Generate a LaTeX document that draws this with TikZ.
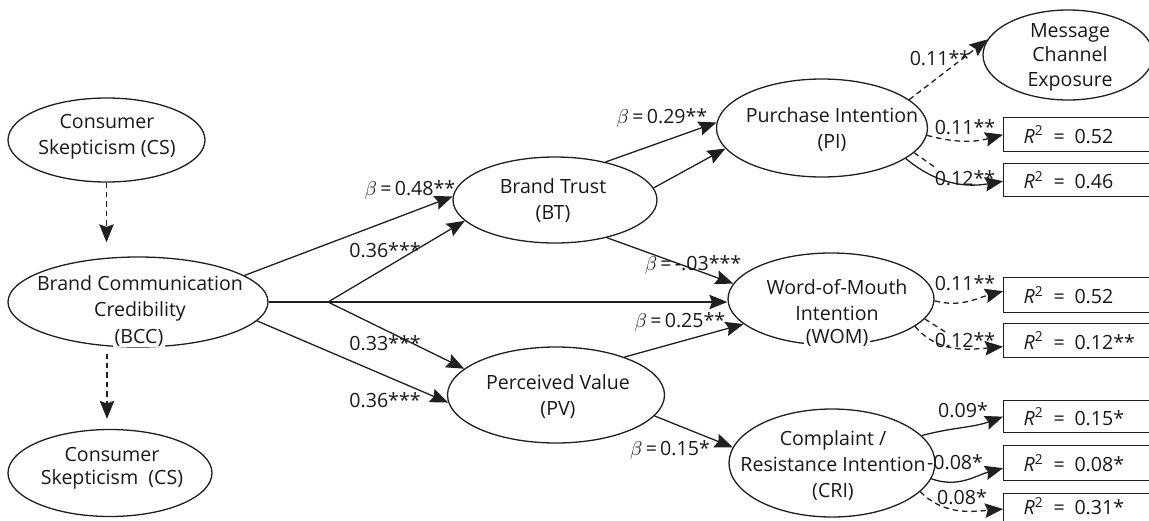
\documentclass[tikz,border=0pt]{standalone}
\usepackage{fontspec}
\setmainfont{Open Sans}
\usetikzlibrary{arrows.meta,calc,shapes.geometric}

\newcommand{\rsq}[1]{\textit{R}\textsuperscript{2}\enspace=\enspace#1}

\begin{document}
\begin{tikzpicture}[x=0.5pt,y=-0.5pt,
  every node/.style={font=\fontsize{9.8}{13}\selectfont, text=black!90},
  latent/.style={draw=black!88, line width=0.65pt, ellipse, inner sep=0pt},
  txt/.style={align=center, inner sep=0pt},
  gap/.style={fill=white, inner xsep=1pt, inner ysep=0pt},
  rbox/.style={draw=black!88, line width=0.65pt, anchor=north west, minimum width=82pt,
               text width=62pt, inner xsep=10pt, inner ysep=0pt, align=left},
  coef/.style={inner sep=0pt},
  link/.style={draw=black!88, line width=0.65pt, -{Stealth[length=9pt,width=7.2pt,inset=1.3pt]}},
  dlink/.style={link, dash pattern=on 2.7pt off 2pt},
  dseg/.style={draw=black!88, line width=0.65pt, dash pattern=on 2.7pt off 2pt}
]
\useasboundingbox (0,0) rectangle (1149,520);

% latent constructs
\node[latent, minimum width=98.5pt, minimum height=42pt]  (cs1) at (106.5,140) {};
\node[latent, minimum width=130pt,  minimum height=45pt]  (bcc) at (138,302) {};
\node[latent, minimum width=102pt,  minimum height=43.5pt](cs2) at (110,473) {};
\node[latent, minimum width=102pt,  minimum height=43pt]  (bt)  at (555,200) {};
\node[latent, minimum width=105.5pt,minimum height=49pt]  (pi)  at (822,128) {};
\node[latent, minimum width=85pt,   minimum height=45pt]  (mce) at (1068,55) {};
\node[latent, minimum width=103pt,  minimum height=46pt]  (wom) at (831,299) {};
\node[latent, minimum width=108.5pt,minimum height=48pt]  (pv)  at (556,395) {};
\node[latent, minimum width=103pt,  minimum height=54pt]  (cri) at (832,463) {};

% construct names
\node[txt] (cs1t) at (107,136.5) {Consumer\\Skepticism (CS)};
\node[txt] (bcct) at (140,298) {Brand Communication\\Credibility};
\node[txt, gap] (bccs) at (139,338) {(BCC)};
\node[txt, font=\fontsize{9.8}{11.5}\selectfont] (cs2t) at (112,468.5) {Consumer\\Skepticism\ \ (CS)};
\node[txt] (btt)  at (553,200.5) {Brand Trust\\(BT)};
\node[txt] (pit)  at (832,129.5) {Purchase Intention\\(PI)};
\node[txt, font=\fontsize{9.8}{12.3}\selectfont] (mcet) at (1070,57) {Message\\Channel\\Exposure};
\node[txt] (womt) at (837,300) {Word-of-Mouth\\Intention};
\node[txt, gap] (woms) at (837,338) {(WOM)};
\node[txt] (pvt)  at (558,397) {Perceived Value\\(PV)};
\node[txt] (crit) at (833,466) {Complaint /\\Resistance Intention\\(CRI)};

% explained variance boxes
\node[rbox, minimum height=17pt]   (r1) at (1003,117) {\rsq{0.52}};
\node[rbox, minimum height=16.5pt] (r2) at (1003,163) {\rsq{0.46}};
\node[rbox, minimum height=17.5pt] (r3) at (1003,277) {\rsq{0.52}};
\node[rbox, minimum height=17pt]   (r4) at (1003,323) {\rsq{0.12**}};
\node[rbox, minimum height=16pt]   (r5) at (1003,400) {\rsq{0.15*}};
\node[rbox, minimum height=17.5pt] (r6) at (1003,445) {\rsq{0.08*}};
\node[rbox, inner ysep=2pt, text depth=7pt] (r7) at (1003,493) {\rsq{0.31*}};

% branching point of the credibility paths
\coordinate (br) at (328,302);

% vertical dashed links
\draw[dlink, shorten >=7pt] (cs1.south) -- (cs1.south |- bcc.north);
\draw[dlink, shorten <=3pt, shorten >=5pt] (bcc.south -| 107,0) -- (107,0 |- cs2.north);

% structural paths
\draw[link] (bcc.14.5) -- (bt.178);
\draw[draw=black!88, line width=0.65pt] (bcc.east) -- (br);
\draw[link] (br) -- (bt.193);
\draw[link] (br) -- (br -| wom.west);
\draw[link] (br) -- (pv.164);
\draw[link] (bcc.-9.5) -- (pv.184);
\draw[link] (bt.37.6) -- (pi.177);
\draw[link] (bt.7.6) -- (pi.192.5);
\draw[link] (bt.-36) -- (wom.171);
\draw[link] (pv.29.6) -- (wom.196.5);
\draw[link] (pv.-12.3) -- (cri.171.5);

% outcome links
\draw[dlink] (pi.18) -- (mce.169.5);
\draw[dlink] (pi.-4) to[out=-15,in=195] (r1.west);
\draw[link] (pi.-20) to[out=-40,in=190] ($(r2.west)+(0,1)$);
\coordinate (pi2) at (936,168);
\draw[dseg] (pi.-15) -- (pi2);
\draw[dlink] (wom.-1) to[out=-15,in=195] ($(r3.west)+(0,-4)$);
\draw[dlink] (wom.-18) to[out=-50,in=185] ($(r4.west)+(0,6)$);
\coordinate (wom2) at (947,333);
\draw[dseg] (wom.-12.6) -- (wom2);
\draw[link] (cri.17) to[out=15,in=200] (r5.west);
\draw[link] (cri.-9) to[out=-20,in=195] ($(r6.west)+(0,5)$);
\draw[dlink] (cri.-18) to[out=-45,in=185] ($(r7.north west)+(0,16)$);

% path coefficients
\node[coef] (c1)  at (410,190) {$\beta$\,=\,0.48**};
\node[coef] (c2)  at (385,250) {0.36***};
\node[coef] (c3)  at (385,343) {0.33***};
\node[coef] (c4)  at (385,400) {0.36***};
\node[coef] (c5)  at (662,118) {$\beta$\,=\,0.29**};
\node[coef] (c6)  at (693,265) {$\beta$\,=\,-.03***};
\node[coef] (c7)  at (680,322) {$\beta$\,=\,0.25**};
\node[coef] (c8)  at (670,450) {$\beta$\,=\,0.15*};
\node[coef] (c9)  at (940,58)  {0.11**};
\node[coef] (c10) at (965,127) {0.11**};
\node[coef] (c11) at (965,178) {0.12**};
\node[coef] (c12) at (965,283) {0.11**};
\node[coef] (c13) at (965,340) {0.12**};
\node[coef] (c14) at (963,410) {0.09*};
\node[coef] (c15) at (955,462) {-0.08*};
\node[coef] (c16) at (962,497) {0.08*};
\end{tikzpicture}
\end{document}
